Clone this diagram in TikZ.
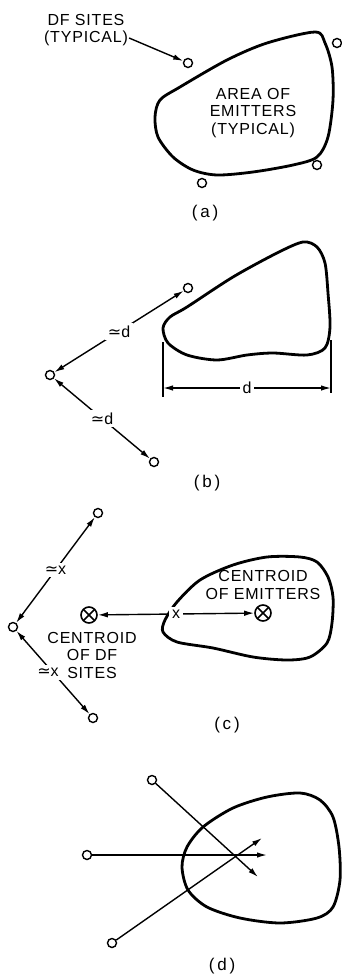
\documentclass[tikz,border=0pt]{standalone}
\usepackage{fontspec}
\setmainfont{Liberation Sans}
\newfontfamily\symfont{DejaVu Sans}
\usetikzlibrary{arrows.meta}
\tikzset{
  site/.style={
    circle, draw, line width=1.4pt, inner sep=0pt, minimum size=9pt,
  },
  centroid/.style={
    circle, draw, line width=1.6pt, inner sep=0pt, minimum size=16pt,
    path picture={
      \draw[line width=1.6pt]
        (path picture bounding box.north west) -- (path picture bounding box.south east)
        (path picture bounding box.north east) -- (path picture bounding box.south west);
    },
  },
  area/.style={
    line width=2.8pt, line join=round,
  },
  arr/.style={
    -{Latex[length=10pt,width=5.5pt]}, line width=1.4pt,
  },
  dblarr/.style={
    {Latex[length=10pt,width=5.5pt]}-{Latex[length=10pt,width=5.5pt]}, line width=1.4pt,
  },
  lbl/.style={
    font=\fontsize{16}{17.5}\selectfont\addfontfeature{LetterSpace=5},
    align=center, inner sep=1pt,
  },
  gaplbl/.style={
    font=\fontsize{16}{17.5}\selectfont, fill=white, inner sep=3pt,
  },
  caption/.style={
    font=\fontsize{17}{19}\selectfont,
  },
}
\newcommand{\approxeq}{{\symfont ≃}}

\begin{document}
\begin{tikzpicture}[x=1pt, y=-1pt]
\useasboundingbox (0,0) rectangle (342,974);

% ═══════════════════════════════════════════════════════════════
%  PANEL (a)
% ═══════════════════════════════════════════════════════════════
\draw[area] plot[smooth cycle] coordinates {
  (315,32) (267,43) (227,60) (180,87) (160,100) (155,117) (158,137)
  (173,157) (193,170) (217,175) (253,172) (293,165) (317,157)
  (328,137) (333,100) (332,67) (325,43)};

\node[lbl] (areaA) at (253,113) {AREA OF\\EMITTERS\\(TYPICAL)};
\node[lbl] (dfsites) at (86,30) {DF SITES\\(TYPICAL)};

\node[site] (sa1) at (188,63) {};
\node[site] (sa2) at (337,43) {};
\node[site] (sa3) at (317,165) {};
\node[site] (sa4) at (202,183) {};

\draw[arr] ([yshift=-8pt]dfsites.east) -- (sa1);

\node[caption] (capA) at (205,213) {(\,a\,)};

% ═══════════════════════════════════════════════════════════════
%  PANEL (b)
% ═══════════════════════════════════════════════════════════════
\draw[area] plot[smooth cycle] coordinates {
  (303,242) (317,247) (325,263) (328,293) (330,327) (325,348)
  (307,355) (273,353) (247,355) (217,360) (187,355) (168,343)
  (163,328) (170,317) (187,307) (233,277) (277,253)};

\node[site] (sb0) at (50,375) {};
\node[site] (sb1) at (188,288) {};
\node[site] (sb2) at (154,462) {};

\draw[dblarr] (sb0) -- node[gaplbl] {\approxeq d} (sb1);
\draw[dblarr] (sb0) -- node[gaplbl] {\approxeq d} (sb2);

% ── width of the area ──
\coordinate (dimL) at (163,388);
\coordinate (dimR) at (331,388);
\draw[line width=1.4pt] (163,342) -- (163,397);
\draw[line width=1.4pt] (331,340) -- (331,393);
\draw[dblarr] (dimL) -- node[gaplbl] {d} (dimR);

\node[caption] (capB) at (207,483) {(\,b\,)};

% ═══════════════════════════════════════════════════════════════
%  PANEL (c)
% ═══════════════════════════════════════════════════════════════
\draw[area] plot[smooth cycle] coordinates {
  (300,557) (317,562) (328,577) (333,597) (332,623) (327,643)
  (310,657) (287,660) (253,657) (213,648) (177,642) (163,632)
  (165,620) (177,602) (200,580) (233,565) (267,557)};

\node[site] (sc0) at (13,627) {};
\node[site] (sc1) at (98,513) {};
\node[site] (sc2) at (93,718) {};

\draw[dblarr] (sc0) -- node[gaplbl] {\approxeq x} (sc1);
\draw[dblarr] (sc0) -- node[gaplbl, xshift=-5pt] {\approxeq x} (sc2);

\node[centroid] (cdf) at (89,615) {};
\node[centroid] (cem) at (263,613) {};
\draw[dblarr] (cdf) -- node[gaplbl] {x} (cem);

\node[lbl] (cdfLbl) at (92,655) {CENTROID\\OF DF\\SITES};
\node[lbl] (cemLbl) at (263,585) {CENTROID\\OF EMITTERS};

\node[caption] (capC) at (227,725) {(\,c\,)};

% ═══════════════════════════════════════════════════════════════
%  PANEL (d)
% ═══════════════════════════════════════════════════════════════
\draw[area] plot[smooth cycle] coordinates {
  (300,793) (320,800) (333,817) (339,847) (340,880) (333,907)
  (317,918) (280,923) (240,918) (207,907) (188,890) (182,867)
  (187,847) (203,827) (233,808) (267,797)};

\node[site] (sd1) at (152,780) {};
\node[site] (sd2) at (87,855) {};
\node[site] (sd3) at (112,943) {};

\coordinate (fix1) at (258,877);
\coordinate (fix2) at (267,855);
\coordinate (fix3) at (262,838);

\draw[arr] (sd1) -- (fix1);
\draw[arr] (sd2) -- (fix2);
\draw[arr] (sd3) -- (fix3);

\node[caption] (capD) at (222,966) {(\,d\,)};

\end{tikzpicture}
\end{document}
